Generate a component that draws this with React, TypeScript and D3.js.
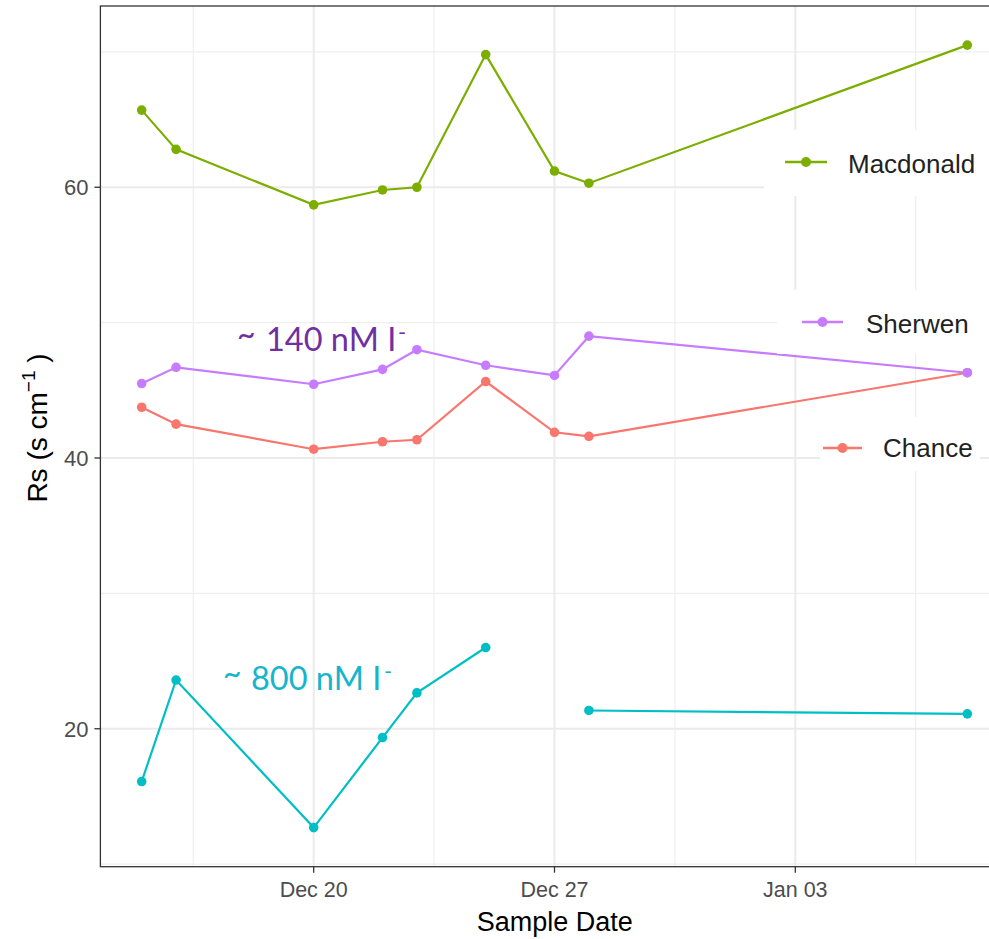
import React, { useEffect } from "react";
import * as d3 from "d3";

// Sample dates (one per column of values below)
const sampleDates = [
  "2017-12-15", "2017-12-16", "2017-12-20", "2017-12-22", "2017-12-23",
  "2017-12-25", "2017-12-27", "2017-12-28", "2018-01-08",
];

// Rs (s cm^-1) per model
const macdonald = [65.7, 62.8, 58.7, 59.8, 60.0, 69.8, 61.2, 60.3, 70.5];
const sherwen = [45.5, 46.7, 45.45, 46.55, 48.0, 46.85, 46.1, 49.0, 46.3];
const chance = [43.75, 42.5, 40.65, 41.2, 41.35, 45.65, 41.9, 41.6, 46.3];
const highIodide = [16.1, 23.6, 12.7, 19.35, 22.65, 26.0, NaN, 21.35, 21.1];

const seriesNames = ["Chance", "Sherwen", "Macdonald", "highIodide"];
const seriesColors = ["#F8766D", "#C77CFF", "#7CAE00", "#00BFC4"];

const xTickDates = ["2017-12-20", "2017-12-27", "2018-01-03"];
const xTickLabels = ["Dec 20", "Dec 27", "Jan 03"];
const yTicks = [20, 40, 60];
const yMinorTicks = [10, 30, 50, 70];

const W = 989;
const H = 939;
const panel = { left: 100.4, top: 6, right: 1008.6, bottom: 866.7 };

const parse = d3.utcParse("%Y-%m-%d");
const DAY = 86400000;

export default function App() {
  useEffect(() => {
    document.body.style.margin = "0";
  }, []);

  const dates = sampleDates.map((s) => parse(s) as Date);
  const allSeries = [chance, sherwen, macdonald, highIodide];

  // ggplot-style 5% expansion of the data range
  const [dMin, dMax] = d3.extent(dates) as [Date, Date];
  const dPad = (dMax.getTime() - dMin.getTime()) * 0.05;
  const x = d3
    .scaleUtc()
    .domain([new Date(dMin.getTime() - dPad), new Date(dMax.getTime() + dPad)])
    .range([panel.left, panel.right]);

  const vals = allSeries.flat().filter((v) => !isNaN(v));
  const [vMin, vMax] = d3.extent(vals) as [number, number];
  const vPad = (vMax - vMin) * 0.05;
  const y = d3
    .scaleLinear()
    .domain([vMin - vPad, vMax + vPad])
    .range([panel.bottom, panel.top]);

  const xMajor = xTickDates.map((s) => parse(s) as Date);
  const xMinor: Date[] = [];
  for (let i = -1; i < xMajor.length; i++) {
    const base = i < 0 ? xMajor[0].getTime() - 7 * DAY : xMajor[i].getTime();
    xMinor.push(new Date(base + 3.5 * DAY));
  }

  const line = d3
    .line<[Date, number]>()
    .defined((d) => !isNaN(d[1]))
    .x((d) => x(d[0]))
    .y((d) => y(d[1]));

  const fontAxis = "'Liberation Sans', Arial, sans-serif";

  const legendItems = [
    { name: "Macdonald", color: seriesColors[2], box: [764, 130, 225, 66], key: [785, 827, 162], tx: 848, ty: 173 },
    { name: "Sherwen", color: seriesColors[1], box: [777, 290, 212, 64], key: [802, 843, 322], tx: 866, ty: 333 },
    { name: "Chance", color: seriesColors[0], box: [820, 417, 160, 54], key: [823, 862, 448], tx: 883, ty: 457 },
  ];

  return (
    <svg width={W} height={H} style={{ display: "block", background: "#fff" }}>
      <defs>
        <clipPath id="panelClip">
          <rect x={panel.left} y={panel.top} width={panel.right - panel.left} height={panel.bottom - panel.top} />
        </clipPath>
      </defs>
      <rect x={0} y={0} width={W} height={H} fill="#fff" />

      {/* grid */}
      <g clipPath="url(#panelClip)">
        {yMinorTicks.map((t) => (
          <line key={"ym" + t} x1={panel.left} x2={panel.right} y1={y(t)} y2={y(t)} stroke="#EFEFEF" strokeWidth={1.2} />
        ))}
        {xMinor.map((d, i) => (
          <line key={"xm" + i} x1={x(d)} x2={x(d)} y1={panel.top} y2={panel.bottom} stroke="#EFEFEF" strokeWidth={1.2} />
        ))}
        {yTicks.map((t) => (
          <line key={"yM" + t} x1={panel.left} x2={panel.right} y1={y(t)} y2={y(t)} stroke="#EBEBEB" strokeWidth={2} />
        ))}
        {xMajor.map((d, i) => (
          <line key={"xM" + i} x1={x(d)} x2={x(d)} y1={panel.top} y2={panel.bottom} stroke="#EBEBEB" strokeWidth={2} />
        ))}
      </g>

      {/* series */}
      <g clipPath="url(#panelClip)">
        {allSeries.map((vs, si) => {
          const pts = dates.map((d, i) => [d, vs[i]] as [Date, number]);
          return (
            <g key={seriesNames[si]}>
              <path d={line(pts) || ""} fill="none" stroke={seriesColors[si]} strokeWidth={2.2} />
              {pts
                .filter((p) => !isNaN(p[1]))
                .map((p, i) => (
                  <circle key={i} cx={x(p[0])} cy={y(p[1])} r={4.8} fill={seriesColors[si]} />
                ))}
            </g>
          );
        })}
      </g>

      {/* panel border */}
      <rect
        x={panel.left}
        y={panel.top}
        width={panel.right - panel.left}
        height={panel.bottom - panel.top}
        fill="none"
        stroke="#333"
        strokeWidth={1.3}
      />

      {/* y axis */}
      {yTicks.map((t) => (
        <g key={"yt" + t}>
          <line x1={panel.left - 6} x2={panel.left} y1={y(t)} y2={y(t)} stroke="#333" strokeWidth={1.3} />
          <text x={panel.left - 12} y={y(t)} dy="0.36em" textAnchor="end" fontFamily={fontAxis} fontSize={22} fill="#4D4D4D">
            {t}
          </text>
        </g>
      ))}

      {/* x axis */}
      {xMajor.map((d, i) => (
        <g key={"xt" + i}>
          <line x1={x(d)} x2={x(d)} y1={panel.bottom} y2={panel.bottom + 6} stroke="#333" strokeWidth={1.3} />
          <text x={x(d)} y={897} textAnchor="middle" fontFamily={fontAxis} fontSize={21.5} fill="#4D4D4D">
            {xTickLabels[i]}
          </text>
        </g>
      ))}

      {/* axis titles */}
      <text x={(panel.left + 989) / 2 + 10} y={931} textAnchor="middle" fontFamily={fontAxis} fontSize={27} fill="#000">
        Sample Date
      </text>
      <text
        transform={`translate(47, 428) rotate(-90)`}
        textAnchor="middle"
        fontFamily={fontAxis}
        fontSize={28}
        fill="#000"
      >
        Rs (s cm
        <tspan fontSize={19} dy={-12}>−1</tspan>
        <tspan dy={12}> )</tspan>
      </text>

      {/* annotations */}
      <g fontFamily="Lato, 'Open Sans', sans-serif">
        <text x={237} y={346} fontSize={32} fill="#7030A0">~</text>
        <text x={266} y={351} fontSize={32.5} fill="#7030A0">140 nM I</text>
        <text x={398} y={340} fontSize={22} fill="#7030A0">-</text>
        <text x={223} y={685} fontSize={32} fill="#17B5CC">~</text>
        <text x={251} y={690} fontSize={32.5} fill="#17B5CC">800 nM I</text>
        <text x={384} y={679} fontSize={22} fill="#17B5CC">-</text>
      </g>

      {/* legend entries */}
      {legendItems.map((it) => (
        <g key={it.name}>
          <rect x={it.box[0]} y={it.box[1]} width={it.box[2]} height={it.box[3]} fill="#fff" />
          <line x1={it.key[0]} x2={it.key[1]} y1={it.key[2]} y2={it.key[2]} stroke={it.color} strokeWidth={2.6} />
          <circle cx={(it.key[0] + it.key[1]) / 2} cy={it.key[2]} r={5} fill={it.color} />
          <text x={it.tx} y={it.ty} fontFamily={fontAxis} fontSize={26} fill="#222">
            {it.name}
          </text>
        </g>
      ))}
    </svg>
  );
}
